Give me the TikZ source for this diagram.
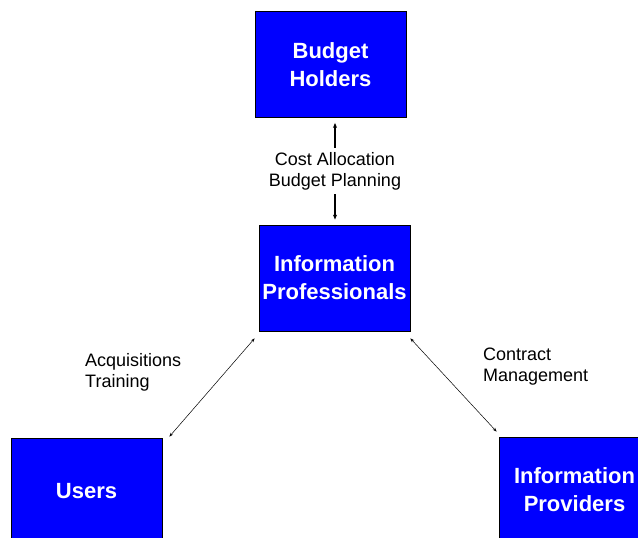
\documentclass[tikz,border=0pt]{standalone}
\usepackage{fontspec}
\setmainfont{Liberation Sans}
\usetikzlibrary{arrows.meta}
\definecolor{boxblue}{RGB}{0,0,255}
\tikzset{
	party/.style={draw=black, fill=boxblue, text=white, line width=0.8pt,
		minimum width=151pt, minimum height=106pt, align=center,
		font=\fontsize{22}{28}\selectfont\bfseries},
	task/.style={font=\fontsize{18}{21}\selectfont, inner sep=0pt},
	link/.style={-{Stealth[length=5pt,width=4pt]}, line width=1.3pt},
	flow/.style={{Stealth[length=4pt,width=3pt]}-{Stealth[length=4pt,width=3pt]}, line width=0.5pt}
}
\begin{document}
\begin{tikzpicture}[x=1pt, y=-1pt]
		\useasboundingbox (0,0) rectangle (638,538);
		\clip (0,0) rectangle (638,538);
		% Boxen
		\node[party] (holders) at (330.5,64.5) {Budget\\Holders};
		\node[party] (prof) at (334.5,278) {Information\\Professionals};
		\node[party] (users) at (86.5,491) {Users};
		\node[party] (prov) at (574.5,490) {Information\\Providers};
		% Beschriftungen
		\node[task, align=center, inner sep=4pt] (cost) at (335,171) {Cost Allocation\\Budget Planning};
		\node[task, align=left, anchor=west] (acq) at (85,372) {Acquisitions\\Training};
		\node[task, align=left, anchor=west] (contract) at (483,366.5) {Contract\\Management};
		% Pfeile
		\draw[link, shorten >=5pt] (cost.north) -- (cost.north |- holders.south);
		\draw[link, shorten >=5pt] (cost.south) -- (cost.south |- prof.north);
		\draw[flow] ([shift={(-4,7)}]prof.south west) -- ([shift={(7,-1)}]users.north east);
		\draw[flow] ([shift={(0,7)}]prof.south east) -- ([shift={(-2,-5)}]prov.north west);
	\end{tikzpicture}
\end{document}
